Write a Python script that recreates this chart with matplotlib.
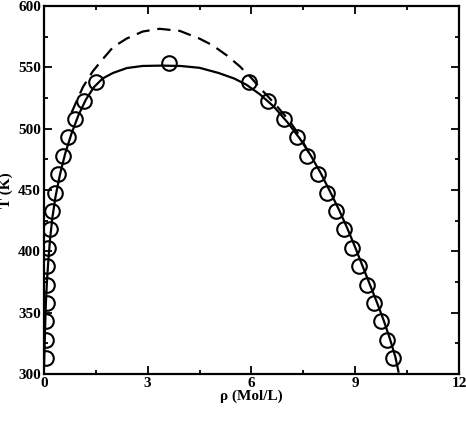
import numpy as np
import matplotlib.pyplot as plt
from matplotlib.ticker import MultipleLocator

# simulation points (rho in mol/L, T in K)
rho_sim = [0.05, 0.06, 0.06, 0.08, 0.09, 0.10, 0.12, 0.17, 0.24, 0.32, 0.40, 0.55, 0.69, 0.89, 1.15, 1.52,
           3.62,
           5.93, 6.47, 6.94, 7.31, 7.62, 7.92, 8.18, 8.44, 8.67, 8.90, 9.10, 9.33, 9.54, 9.74, 9.91, 10.09]
T_sim = [313, 328, 343, 358, 373, 388, 403, 418, 433, 448, 463, 478, 493, 508, 523, 538,
         554,
         538, 523, 508, 493, 478, 463, 448, 433, 418, 403, 388, 373, 358, 343, 328, 313]

# fitted curve (solid)
rho_fit = [0.0, 0.02, 0.04, 0.06, 0.09, 0.13, 0.18, 0.25, 0.34, 0.47, 0.62, 0.80, 1.00, 1.22, 1.45, 1.70,
           2.00, 2.40, 2.85, 3.40, 3.95, 4.50, 5.05, 5.50, 5.85, 6.25, 6.65, 7.05, 7.40, 7.72, 8.00,
           8.27, 8.53, 8.77, 8.99, 9.20, 9.41, 9.62, 9.82, 10.00, 10.16, 10.25]
T_fit = [300, 320, 340, 358, 375, 392, 410, 428, 445, 463, 480, 496, 511, 524, 534, 541,
         545.5, 549.5, 551.2, 551.5, 551.2, 549.7, 545.5, 541, 536, 528, 518, 505, 492, 478, 464,
         449, 434, 419, 404, 389, 374, 359, 344, 329, 314, 302]

# second curve (dashed)
rho_dash = [0.80, 0.94, 1.13, 1.42, 1.71, 2.00, 2.39, 2.86, 3.35, 3.93, 4.50, 4.88, 5.28, 5.66,
            5.98, 6.29, 6.72, 7.11, 7.40, 7.65]
T_dash = [513, 522, 534, 547, 557, 566.5, 573.5, 579.3, 581.5, 579.8, 573.5, 568, 560, 551,
          542, 532, 519, 506, 494, 481]

plt.rcParams['font.family'] = ['Liberation Serif', 'DejaVu Serif']
plt.rcParams['font.weight'] = 'bold'

fig = plt.figure(figsize=(4.66, 4.37), dpi=100)
ax = fig.add_axes([0.094, 0.144, 0.891, 0.842])

ax.plot(rho_fit, T_fit, color='black', lw=1.6)
ax.plot(rho_dash, T_dash, color='black', lw=1.6, ls=(0, (6, 3.5)))
ax.plot(rho_sim, T_sim, ls='none', marker='o', ms=10.5, mfc='none', mec='black', mew=1.5)

ax.set_xlim(0, 12)
ax.set_ylim(300, 600)
ax.xaxis.set_major_locator(MultipleLocator(3))
ax.xaxis.set_minor_locator(MultipleLocator(1.5))
ax.yaxis.set_major_locator(MultipleLocator(50))
ax.yaxis.set_minor_locator(MultipleLocator(25))
ax.tick_params(which='both', direction='in', top=True, right=True, width=1.3, labelsize=11, pad=2)
ax.tick_params(which='major', length=6)
ax.tick_params(which='minor', length=3)
for s in ax.spines.values():
    s.set_linewidth(1.6)
for lab in ax.get_xticklabels() + ax.get_yticklabels():
    lab.set_fontweight('bold')

ax.set_xlabel('ρ (Mol/L)', fontsize=11, fontweight='bold', labelpad=0)
ax.set_ylabel('T (K)', fontsize=11, fontweight='bold', labelpad=4)

fig.savefig('out.png', dpi=100)
